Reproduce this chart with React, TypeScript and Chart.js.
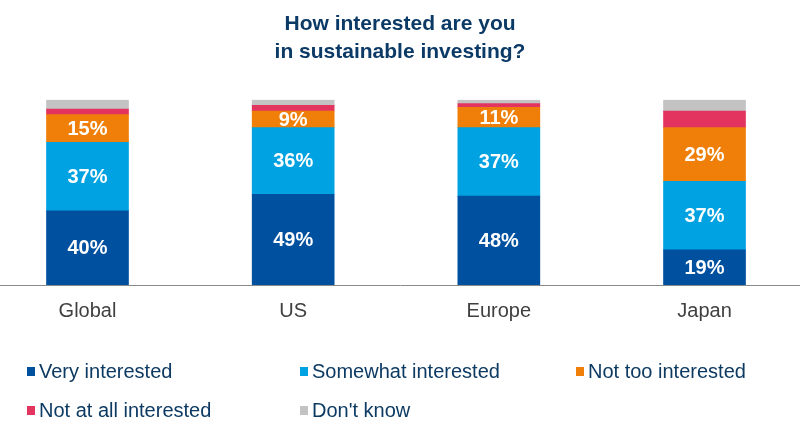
import React, { useEffect, useRef } from "react";
import { Chart, registerables } from "chart.js";

Chart.register(...registerables);

const categories = ["Global", "US", "Europe", "Japan"];
const seriesNames = ["Very interested", "Somewhat interested", "Not too interested", "Not at all interested", "Don't know"];
const veryInterested = [40, 49, 48, 19];
const somewhatInterested = [37, 36, 37, 37];
const notTooInterested = [15, 9, 11, 29];
const notAtAllInterested = [3, 3, 2, 9];
const dontKnow = [5, 3, 2, 6];
const seriesColors = ["#0050a0", "#00a2e1", "#f07f0a", "#e3345f", "#c3c3c3"];
const titleLines = ["How interested are you", "in sustainable investing?"];

const seriesValues = [veryInterested, somewhatInterested, notTooInterested, notAtAllInterested, dontKnow];

const labelPlugin = {
  id: "segLabels",
  afterDatasetsDraw(chart: any) {
    const ctx = chart.ctx;
    ctx.save();
    ctx.fillStyle = "#ffffff";
    ctx.font = "bold 20px 'Liberation Sans', Arial, sans-serif";
    ctx.textAlign = "center";
    ctx.textBaseline = "middle";
    for (let d = 0; d < 3; d++) {
      const meta = chart.getDatasetMeta(d);
      meta.data.forEach((el: any, i: number) => {
        const v = seriesValues[d][i];
        ctx.fillText(v + "%", el.x, (el.y + el.base) / 2 + 1);
      });
    }
    ctx.restore();
  },
};

export default function App() {
  const ref = useRef<HTMLCanvasElement>(null);
  useEffect(() => {
    if (!ref.current) return;
    const spacing = 205.67;
    const first = 87.5;
    const xmin = -first / spacing;
    const xmax = xmin + 800 / spacing;
    const chart = new Chart(ref.current, {
      type: "bar",
      data: {
        datasets: seriesValues.map((vals, d) => ({
          label: seriesNames[d],
          data: vals.map((v, i) => ({ x: i, y: v })),
          backgroundColor: seriesColors[d],
          borderWidth: 0,
          barThickness: 82,
        })),
      },
      options: {
        responsive: false,
        animation: false,
        layout: { padding: { left: 0, right: 0, top: 0, bottom: 107 } },
        plugins: {
          legend: { display: false },
          tooltip: { enabled: false },
          title: {
            display: true,
            text: titleLines,
            color: "#0b3a66",
            font: { family: "'Liberation Sans', Arial, sans-serif", size: 21, weight: "bold", lineHeight: 1.33 },
            padding: { top: 10, bottom: 34 },
          },
        },
        scales: {
          x: {
            type: "linear",
            stacked: true,
            offset: false,
            min: xmin,
            max: xmax,
            grid: { display: false, drawTicks: false },
            border: { display: true, color: "#8a8a8a", width: 1 },
            ticks: {
              includeBounds: false,
              stepSize: 1,
              autoSkip: false,
              maxRotation: 0,
              padding: 14,
              color: "#404040",
              font: { family: "'Liberation Sans', Arial, sans-serif", size: 20 },
              callback: (v: any) => (Number.isInteger(v) && categories[v] ? categories[v] : ""),
            },
          },
          y: {
            stacked: true,
            display: false,
            min: 0,
            max: 100,
          },
        },
      },
      plugins: [labelPlugin],
    } as any);
    return () => chart.destroy();
  }, []);

  const legendPos = [
    { x: 27, y: 371 },
    { x: 300, y: 371 },
    { x: 576, y: 371 },
    { x: 27, y: 410 },
    { x: 300, y: 410 },
  ];

  return (
    <div style={{ position: "absolute", left: 0, top: 0, width: 800, height: 444, background: "#fff", overflow: "hidden" }}>
      <canvas ref={ref} width={800} height={444} style={{ display: "block" }} />
      {seriesNames.map((name, i) => (
        <div
          key={name}
          style={{
            position: "absolute",
            left: legendPos[i].x,
            top: legendPos[i].y - 12,
            height: 24,
            display: "flex",
            alignItems: "center",
            fontFamily: "'Liberation Sans', Arial, sans-serif",
            fontSize: 20,
            color: "#0d3a62",
            whiteSpace: "nowrap",
          }}
        >
          <span style={{ display: "inline-block", width: 8, height: 9, background: seriesColors[i], marginRight: 4 }} />
          <span>{name}</span>
        </div>
      ))}
    </div>
  );
}
